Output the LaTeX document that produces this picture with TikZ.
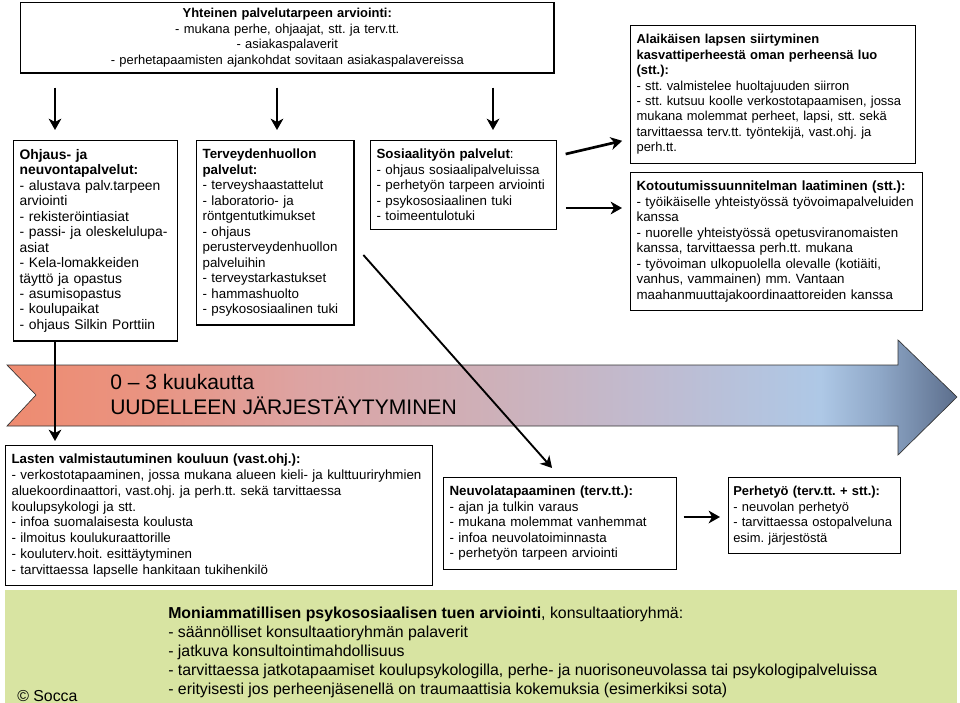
\documentclass[tikz,border=0pt]{standalone}
\usepackage{fontspec}
\setmainfont{Liberation Sans}
\usetikzlibrary{arrows.meta}
\definecolor{vihrea}{HTML}{D8E4A2}
\definecolor{lohi}{HTML}{EE8B70}
\definecolor{lohiB}{HTML}{E99482}
\definecolor{ruusu}{HTML}{DDA3A2}
\definecolor{laventeli}{HTML}{CDB1BA}
\definecolor{lila}{HTML}{C0BBD0}
\definecolor{vaaleansin}{HTML}{AEC8E6}
\definecolor{harmaasin}{HTML}{8FA8C8}
\definecolor{teras}{HTML}{5C6E8C}
\pgfdeclarehorizontalshading{nuolivari}{100bp}{color(0bp)=(lohi); color(25bp)=(lohi);
  color(32.5bp)=(lohiB); color(40.4bp)=(ruusu); color(51bp)=(laventeli);
  color(58.8bp)=(lila); color(67.8bp)=(vaaleansin); color(70.9bp)=(harmaasin);
  color(75bp)=(teras); color(100bp)=(teras)}
\newcommand{\laatikkofontti}{\fontsize{10pt}{11.6pt}\selectfont\frenchspacing}
\newcommand{\pienifontti}{\fontsize{9.7pt}{11.6pt}\selectfont\frenchspacing}
\newcommand{\isofontti}{\fontsize{11.9pt}{14.25pt}\selectfont\frenchspacing}
\newcommand{\nuolifontti}{\fontsize{15.8pt}{18.5pt}\selectfont}
\tikzset{
  laatikko/.style={draw, line width=0.9pt, anchor=north west, align=left,
    inner xsep=4.5pt, inner ysep=6.5pt, font=\laatikkofontti},
  nuoli/.style={line width=2pt, -{Stealth[length=8.5pt,width=9.5pt,inset=2.5pt]}},
  ohutnuoli/.style={line width=1.4pt, -{Stealth[length=8.5pt,width=9.5pt,inset=2.5pt]}}
}

\begin{document}
\begin{tikzpicture}[x=0.75pt,y=-0.75pt]
\useasboundingbox (0,0) rectangle (960,703);

% ====================================================================
%
%         Tausta ja aikajana
%
% ====================================================================

  % vihrea alue alhaalla
  \fill[vihrea] (5,590) rectangle (957,703);

  % iso nuoli
  \shade[shading=nuolivari, draw=black!80, line width=0.5pt]
  (7,365) -- (898,365) -- (898,340) -- (957,397) -- (898,455) -- (898,426) %
  -- (7,426) -- (36,395) -- cycle;
  \node[anchor=north west, inner sep=0pt, align=left, font=\nuolifontti] (aikajana)
    at (110,374) {0 -- 3 kuukautta\\UUDELLEEN JÄRJESTÄYTYMINEN};

% ====================================================================
%
%         Laatikot
%
% ====================================================================

  % yhteinen arviointi
  \node[laatikko, align=center, inner ysep=4.5pt, text width=391pt,
    font=\pienifontti] (yhteinen) at (20,2)
    {\textbf{Yhteinen palvelutarpeen arviointi:}\\
     - mukana perhe, ohjaajat, stt. ja terv.tt.\\
     - asiakaspalaverit\\
     - perhetapaamisten ajankohdat sovitaan asiakaspalavereissa};

  % ohjaus
  \node[laatikko, text width=114pt, font=\fontsize{10.4pt}{11.6pt}\selectfont] (ohjaus) at (13,140)
    {\textbf{Ohjaus- ja}\\ \textbf{neuvontapalvelut:}\\
     - alustava palv.tarpeen\\ arviointi\\
     - rekisteröintiasiat\\
     - passi- ja oleskelulupa-\\ asiat\\
     - Kela-lomakkeiden\\ täyttö ja opastus\\
     - asumisopastus\\
     - koulupaikat\\
     - ohjaus Silkin Porttiin};

  % terveydenhuolto
  \node[laatikko, text width=109pt] (terveys) at (196,140)
    {\textbf{Terveydenhuollon}\\ \textbf{palvelut:}\\
     - terveyshaastattelut\\
     - laboratorio- ja\\ röntgentutkimukset\\
     - ohjaus\\ perusterveydenhuollon\\ palveluihin\\
     - terveystarkastukset\\
     - hammashuolto\\
     - psykososiaalinen tuki};

  % sosiaalityo
  \node[laatikko, text width=130.5pt] (sosiaali) at (370,140)
    {\textbf{Sosiaalityön palvelut}:\\
     - ohjaus sosiaalipalveluissa\\
     - perhetyön tarpeen arviointi\\
     - psykososiaalinen tuki\\
     - toimeentulotuki};

  % alaikainen lapsi
  \node[laatikko, text width=204.5pt, font=\pienifontti] (alaikainen) at (630,25)
    {\textbf{Alaikäisen lapsen siirtyminen}\\
     \textbf{kasvattiperheestä oman perheensä luo}\\ \textbf{(stt.):}\\
     - stt. valmistelee huoltajuuden siirron\\
     - stt. kutsuu koolle verkostotapaamisen, jossa\\
     mukana molemmat perheet, lapsi, stt. sekä\\
     tarvittaessa terv.tt. työntekijä, vast.ohj. ja\\ perh.tt.};

  % kotoutumissuunnitelma
  \node[laatikko, text width=210pt] (kotoutuminen) at (630,172)
    {\textbf{Kotoutumissuunnitelman laatiminen (stt.):}\\
     - työikäiselle yhteistyössä työvoimapalveluiden\\ kanssa\\
     - nuorelle yhteistyössä opetusviranomaisten\\
     kanssa, tarvittaessa perh.tt. mukana\\
     - työvoiman ulkopuolella olevalle (kotiäiti,\\
     vanhus, vammainen) mm. Vantaan\\
     maahanmuuttajakoordinaattoreiden kanssa};

  % koulu
  \node[laatikko, text width=311pt, font=\fontsize{10pt}{11.8pt}\selectfont\frenchspacing] (lasten) at (5,445)
    {\textbf{Lasten valmistautuminen kouluun (vast.ohj.):}\\
     - verkostotapaaminen, jossa mukana alueen kieli- ja kulttuuriryhmien\\
     aluekoordinaattori, vast.ohj. ja perh.tt. sekä tarvittaessa\\
     koulupsykologi ja stt.\\
     - infoa suomalaisesta koulusta\\
     - ilmoitus koulukuraattorille\\
     - kouluterv.hoit. esittäytyminen\\
     - tarvittaessa lapselle hankitaan tukihenkilö};

  % neuvola
  \node[laatikko, text width=165.5pt] (neuvola) at (443,477)
    {\textbf{Neuvolatapaaminen (terv.tt.):}\\
     - ajan ja tulkin varaus\\
     - mukana molemmat vanhemmat\\
     - infoa neuvolatoiminnasta\\
     - perhetyön tarpeen arviointi};

  % perhetyo
  \node[laatikko, inner xsep=3.5pt, text width=122pt, font=\pienifontti] (perhetyo) at (728,477)
    {\textbf{Perhetyö (terv.tt. + stt.):}\\
     - neuvolan perhetyö\\
     - tarvittaessa ostopalveluna\\
     esim. järjestöstä};

  % konsultaatioryhma
  \node[anchor=north west, inner sep=0pt, align=left, font=\isofontti] (moniamm) at (168,607)
    {\textbf{Moniammatillisen psykososiaalisen tuen arviointi}, konsultaatioryhmä:\\
     - säännölliset konsultaatioryhmän palaverit\\
     - jatkuva konsultointimahdollisuus\\
     - tarvittaessa jatkotapaamiset koulupsykologilla, perhe- ja nuorisoneuvolassa tai psykologipalveluissa\\
     - erityisesti jos perheenjäsenellä on traumaattisia kokemuksia (esimerkiksi sota)};
  \node[anchor=base west, inner sep=0pt, font=\isofontti] (socca) at (17,701) {© Socca};

% ====================================================================
%
%         Nuolet
%
% ====================================================================

  % alas yhteisesta
  \foreach \xx/\kohde in {55/ohjaus, 277/terveys, 493/sosiaali}
    \draw[nuoli, shorten <=10.5pt, shorten >=7.5pt]
      (yhteinen.south -| \xx,0) -- (\kohde.north -| \xx,0);

  % oikealle sosiaalityosta
  \draw[nuoli, shorten <=6.5pt, shorten >=6pt]
    (sosiaali.east |- 0,156) -- (alaikainen.west |- 0,139);
  \draw[nuoli, shorten <=6.5pt, shorten >=6pt]
    (sosiaali.east |- 0,208) -- (kotoutuminen.west |- 0,208);

  % ohjauksesta kouluun
  \draw[nuoli, shorten >=3pt] (ohjaus.south -| 55,0) -- (lasten.north -| 55,0);

  % vino neuvolaan
  \draw[ohutnuoli, shorten <=10pt, shorten >=9pt]
    (terveys.east |- 0,245) -- (neuvola.north -| 560,0);

  % neuvolasta perhetyohon
  \draw[nuoli, shorten <=5pt, shorten >=6pt]
    (neuvola.east |- 0,517) -- (perhetyo.west |- 0,517);

\end{tikzpicture}
\end{document}
